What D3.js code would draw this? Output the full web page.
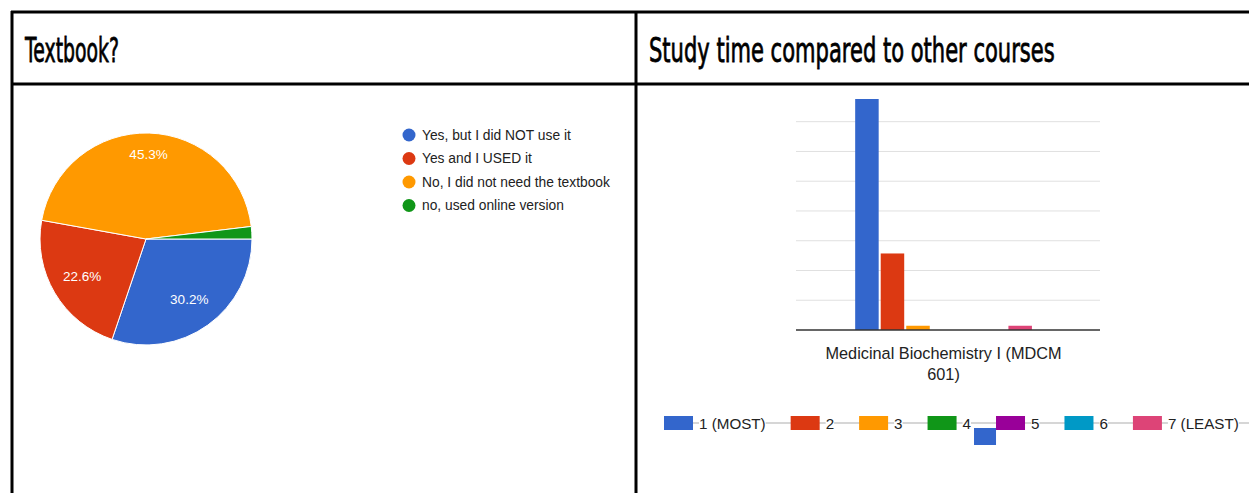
<!DOCTYPE html>
<html>
<head>
<meta charset="utf-8">
<script src="https://cdn.jsdelivr.net/npm/d3@7"></script>
<style>
  body { margin: 0; background: #fff; }
  text { font-family: "Liberation Sans", Arial, sans-serif; }
</style>
</head>
<body>
<svg id="chart" width="1249" height="493"></svg>
<script>
// pie: Textbook?
var pieLabels = ["Yes, but I did NOT use it", "Yes and I USED it", "No, I did not need the textbook", "no, used online version"];
var pieValues = [16, 12, 24, 1];
var pieColors = ["#3366cc", "#dc3912", "#ff9900", "#109618"];

// bars: Study time compared to other courses
var barCategories = ["Medicinal Biochemistry I (MDCM 601)"];
var barSeries = ["1 (MOST)", "2", "3", "4", "5", "6", "7 (LEAST)"];
var barValues = [60, 18, 1, 0, 0, 0, 1];
var barColors = ["#3366cc", "#dc3912", "#ff9900", "#109618", "#990099", "#0099c6", "#dd4477"];
var yTicks = [7, 14, 21, 28, 35, 42, 49];

var svg = d3.select("#chart");

// table frame
var frame = svg.append("g").attr("stroke", "#000").attr("stroke-width", 3);
frame.append("line").attr("x1", 11).attr("y1", 12).attr("x2", 1249).attr("y2", 12);
frame.append("line").attr("x1", 11).attr("y1", 84).attr("x2", 1249).attr("y2", 84);
frame.append("line").attr("x1", 12).attr("y1", 11).attr("x2", 12).attr("y2", 493);
frame.append("line").attr("x1", 636).attr("y1", 11).attr("x2", 636).attr("y2", 493);

// condensed heading: squeeze regular DejaVu horizontally
function title(x, t, len) {
    var g = svg.append("g");
    var txt = g.append("text")
        .attr("x", 0).attr("y", 0)
        .style("font-family", "'DejaVu Sans', sans-serif")
        .attr("font-size", 33)
        .attr("fill", "#000")
        .attr("stroke", "#000").attr("stroke-width", 0.8)
        .text(t);
    var sx = len / txt.node().getComputedTextLength();
    g.attr("transform", "translate(" + x + ",62) scale(" + sx + ",1)");
}
title(25, "Textbook?", 94);
title(649, "Study time compared to other courses", 406);

// ---- pie ----
var cx = 146, cy = 239, R = 106;
var pie = d3.pie().sort(null).startAngle(Math.PI / 2).endAngle(Math.PI / 2 + 2 * Math.PI);
var arcs = pie(pieValues);
var arc = d3.arc().innerRadius(0).outerRadius(R);
var total = d3.sum(pieValues);
// big slice label sits further out, as in the original
function labelPos(d) {
    var f = (d.value / total > 0.4) ? 0.8 : 0.7;
    return d3.arc().innerRadius(R * f).outerRadius(R * f).centroid(d);
}

var pg = svg.append("g").attr("transform", "translate(" + cx + "," + cy + ")");
pg.selectAll("path").data(arcs).enter().append("path")
    .attr("d", arc)
    .attr("fill", function (d, i) { return pieColors[i]; })
    .attr("stroke", "#fff").attr("stroke-width", 1);
pg.selectAll("text").data(arcs.filter(function (d) { return d.value / total > 0.05; }))
    .enter().append("text")
    .attr("transform", function (d) { return "translate(" + labelPos(d) + ")"; })
    .attr("text-anchor", "middle").attr("dominant-baseline", "central")
    .attr("fill", "#fff").attr("font-size", 13.5)
    .text(function (d) { return (d.value / total * 100).toFixed(1) + "%"; });

var pl = svg.append("g").attr("transform", "translate(409,135)");
pieLabels.forEach(function (l, i) {
    pl.append("circle").attr("cx", 0).attr("cy", i * 23.5).attr("r", 6.5).attr("fill", pieColors[i]);
    pl.append("text").attr("x", 13).attr("y", i * 23.5).attr("dominant-baseline", "central")
        .attr("font-size", 13.8).attr("fill", "#222").text(l);
});

// ---- bars ----
var left = 796, right = 1100, base = 330, plotTop = 99;
var y = d3.scaleLinear().domain([0, 56]).range([base, base - 8 * 29.76]);
var x0 = d3.scaleBand().domain(barCategories).range([left, right]).paddingOuter(0.36).align(0.465);
var x1 = d3.scaleBand().domain(barSeries).range([0, x0.bandwidth()]).paddingInner(0.08);

svg.append("clipPath").attr("id", "plotclip").append("rect")
    .attr("x", left).attr("y", plotTop).attr("width", right - left).attr("height", base - plotTop);

var plot = svg.append("g").attr("clip-path", "url(#plotclip)");
plot.selectAll("line.grid").data(yTicks).enter().append("line")
    .attr("class", "grid")
    .attr("x1", left).attr("x2", right)
    .attr("y1", function (d) { return y(d); }).attr("y2", function (d) { return y(d); })
    .attr("stroke", "#e0e0e0").attr("stroke-width", 1);

barCategories.forEach(function (c) {
    plot.selectAll("rect.bar").data(barValues).enter().append("rect")
        .attr("class", "bar")
        .attr("x", function (d, i) { return x0(c) + x1(barSeries[i]); })
        .attr("width", x1.bandwidth())
        .attr("y", function (d) { return y(d); })
        .attr("height", function (d) { return base - y(d); })
        .attr("fill", function (d, i) { return barColors[i]; });
});

svg.append("line").attr("x1", left).attr("x2", right).attr("y1", base).attr("y2", base)
    .attr("stroke", "#333").attr("stroke-width", 1.5);

var catText = svg.append("text").attr("text-anchor", "middle")
    .attr("font-size", 16.3).attr("fill", "#222");
var mid = x0(barCategories[0]) + x0.bandwidth() / 2;
catText.append("tspan").attr("x", mid).attr("y", 359).text("Medicinal Biochemistry I (MDCM");
catText.append("tspan").attr("x", mid).attr("y", 380).text("601)");

// ---- bar legend ----
var lg = svg.append("g");
var ly = 423;
lg.append("line").attr("x1", 664).attr("x2", 1249).attr("y1", ly).attr("y2", ly)
    .attr("stroke", "#d6d6d6").attr("stroke-width", 2);
var lx = 664;
var starts = [];
barSeries.forEach(function (s, i) {
    starts.push(lx);
    lg.append("rect").attr("x", lx).attr("y", ly - 7).attr("width", 29).attr("height", 14)
        .attr("fill", barColors[i]);
    var bg = lg.append("rect").attr("fill", "#fff");
    var t = lg.append("text").attr("x", lx + 35).attr("y", ly).attr("dominant-baseline", "central")
        .attr("font-size", 15.2).attr("fill", "#222").text(s);
    var w = t.node().getComputedTextLength();
    bg.attr("x", lx + 35).attr("y", ly - 8).attr("width", w).attr("height", 16);
    lx = lx + 35 + w + 25;
});
// stray swatch drawn under the legend, next to "4"
lg.append("rect").attr("x", starts[4] - 22).attr("y", ly + 5).attr("width", 22).attr("height", 17)
    .attr("fill", barColors[0]);
</script>
</body>
</html>
